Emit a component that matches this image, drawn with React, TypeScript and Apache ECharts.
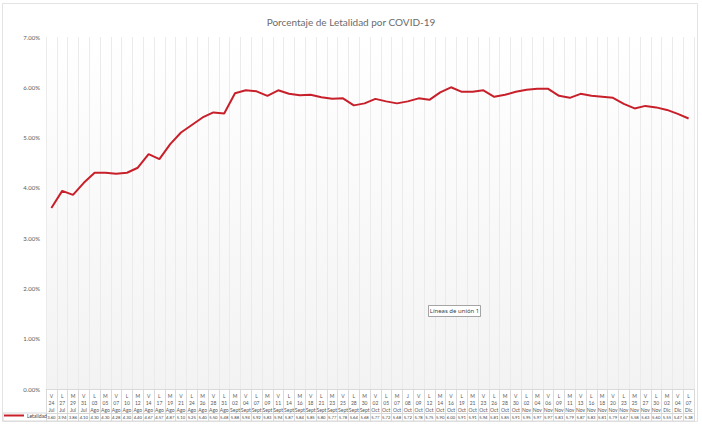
import React, { useEffect, useRef } from "react";
import * as echarts from "echarts";

const dayLetters = ["V","L","M","V","L","M","V","L","M","V","L","M","V","L","M","V","L","M","V","L","M","V","L","M","V","L","M","V","L","M","V","L","M","J","V","L","M","V","L","M","V","L","M","V","L","M","V","L","M","V","L","M","V","L","M","V","L","M","V","L"];
const dayNumbers = ["24","27","29","31","03","05","07","10","12","14","17","19","21","24","26","28","31","02","04","07","09","11","14","16","18","21","23","25","28","30","02","05","07","08","09","12","14","16","19","21","23","26","28","30","02","04","06","09","11","13","16","18","20","23","25","27","30","02","04","07"];
const months = ["Jul","Jul","Jul","Jul","Ago","Ago","Ago","Ago","Ago","Ago","Ago","Ago","Ago","Ago","Ago","Ago","Ago","Sept","Sept","Sept","Sept","Sept","Sept","Sept","Sept","Sept","Sept","Sept","Sept","Sept","Oct","Oct","Oct","Oct","Oct","Oct","Oct","Oct","Oct","Oct","Oct","Oct","Oct","Oct","Nov","Nov","Nov","Nov","Nov","Nov","Nov","Nov","Nov","Nov","Nov","Nov","Nov","Dic","Dic","Dic"];
const letalidad = [3.60,3.94,3.86,4.10,4.30,4.30,4.28,4.30,4.40,4.67,4.57,4.87,5.10,5.25,5.40,5.50,5.48,5.88,5.94,5.92,5.83,5.94,5.87,5.84,5.85,5.80,5.77,5.78,5.64,5.68,5.77,5.72,5.68,5.72,5.78,5.75,5.90,6.00,5.91,5.91,5.94,5.81,5.85,5.91,5.95,5.97,5.97,5.83,5.79,5.87,5.83,5.81,5.79,5.67,5.58,5.63,5.60,5.55,5.47,5.38];
const yTicks = [0,1,2,3,4,5,6,7];

const FONT = "Lato, 'Open Sans', sans-serif";

export default function App() {
  const ref = useRef<HTMLDivElement>(null);
  useEffect(() => {
    if (!ref.current) return;
    const chart = echarts.init(ref.current, null, { renderer: "svg" });
    const cats = dayLetters.map((d, i) => `${d}\n${dayNumbers[i]}\n${months[i]}`);
    const valueLabels = letalidad.map((v) => v.toFixed(2));
    chart.setOption({
      animation: false,
      backgroundColor: "#ffffff",
      textStyle: { fontFamily: FONT },
      title: {
        text: "Porcentaje de Letalidad por COVID-19",
        left: "center",
        top: 12,
        textStyle: { fontSize: 10, fontWeight: "normal", color: "#6b6b6b", fontFamily: FONT },
      },
      legend: {
        data: ["Letalidad"],
        left: 4,
        top: 413,
        icon: "rect",
        itemWidth: 20,
        itemHeight: 2,
        itemGap: 2,
        padding: 0,
        textStyle: { fontSize: 5, color: "#404040", padding: [0, 0, 0, -2] },
      },
      grid: {
        left: 46,
        right: 8,
        top: 37,
        bottom: 35,
        show: true,
        borderWidth: 0,
        backgroundColor: {
          type: "linear", x: 0, y: 0, x2: 0, y2: 1,
          colorStops: [
            { offset: 0, color: "#ffffff" },
            { offset: 1, color: "#f3f3f3" },
          ],
        },
      },
      xAxis: [
        {
          type: "category",
          data: cats,
          boundaryGap: true,
          axisLine: { lineStyle: { color: "#d9d9d9", width: 1 } },
          axisTick: { show: true, interval: 0, length: 32, lineStyle: { color: "#d9d9d9" } },
          axisLabel: { interval: 0, fontSize: 5, lineHeight: 7, margin: 3, color: "#595959" },
          splitLine: { show: true, interval: 0, lineStyle: { width: 1, color: "#ebebeb" } },
        },
        {
          type: "category",
          data: valueLabels,
          position: "bottom",
          offset: 24,
          boundaryGap: true,
          axisLine: { show: true, lineStyle: { color: "#d9d9d9", width: 1 } },
          axisTick: { show: false },
          axisLabel: { interval: 0, fontSize: 4.2, margin: 2, color: "#404040" },
          splitLine: { show: false },
        },
      ],
      yAxis: {
        type: "value",
        min: 0,
        max: 7,
        interval: 1,
        axisLine: { show: false },
        axisTick: { show: false },
        splitLine: { show: false },
        axisLabel: {
          fontSize: 6,
          color: "#595959",
          margin: 6,
          formatter: (v: number) => (yTicks.includes(v) ? v.toFixed(2) + "%" : ""),
        },
      },
      series: [
        {
          name: "Letalidad",
          type: "line",
          xAxisIndex: 0,
          data: letalidad,
          symbol: "none",
          lineStyle: { color: "#c8202a", width: 2 },
          itemStyle: { color: "#c8202a" },
        },
      ],
      graphic: [
        {
          type: "rect",
          shape: { x: 2.5, y: 3.5, width: 695, height: 418 },
          style: { fill: "none", stroke: "#e3e3e3", lineWidth: 1 },
          silent: true,
        },
        {
          type: "line",
          shape: { x1: 3, y1: 421, x2: 694, y2: 421 },
          style: { stroke: "#d9d9d9", lineWidth: 1 },
          silent: true,
        },
        {
          type: "line",
          shape: { x1: 3, y1: 413, x2: 46, y2: 413 },
          style: { stroke: "#d9d9d9", lineWidth: 1 },
          silent: true,
        },
        {
          type: "line",
          shape: { x1: 3, y1: 413, x2: 3, y2: 421 },
          style: { stroke: "#d9d9d9", lineWidth: 1 },
          silent: true,
        },
        {
          type: "group",
          z: 100,
          silent: true,
          children: [
            {
              type: "rect",
              z: 100,
              shape: { x: 428.5, y: 305.5, width: 52, height: 11 },
              style: { fill: "#ffffff", stroke: "#808080", lineWidth: 0.7 },
            },
            {
              type: "text",
              z: 101,
              x: 454.5,
              y: 311,
              style: {
                text: "Líneas de unión 1",
                fontSize: 6,
                fill: "#404040",
                align: "center",
                verticalAlign: "middle",
                fontFamily: "'Noto Sans', 'DejaVu Sans', sans-serif",
              },
            },
          ],
        },
      ],
    });
    return () => chart.dispose();
  }, []);
  return (
    <div
      ref={ref}
      style={{ position: "fixed", left: 0, top: 0, width: 702, height: 424 }}
    />
  );
}
